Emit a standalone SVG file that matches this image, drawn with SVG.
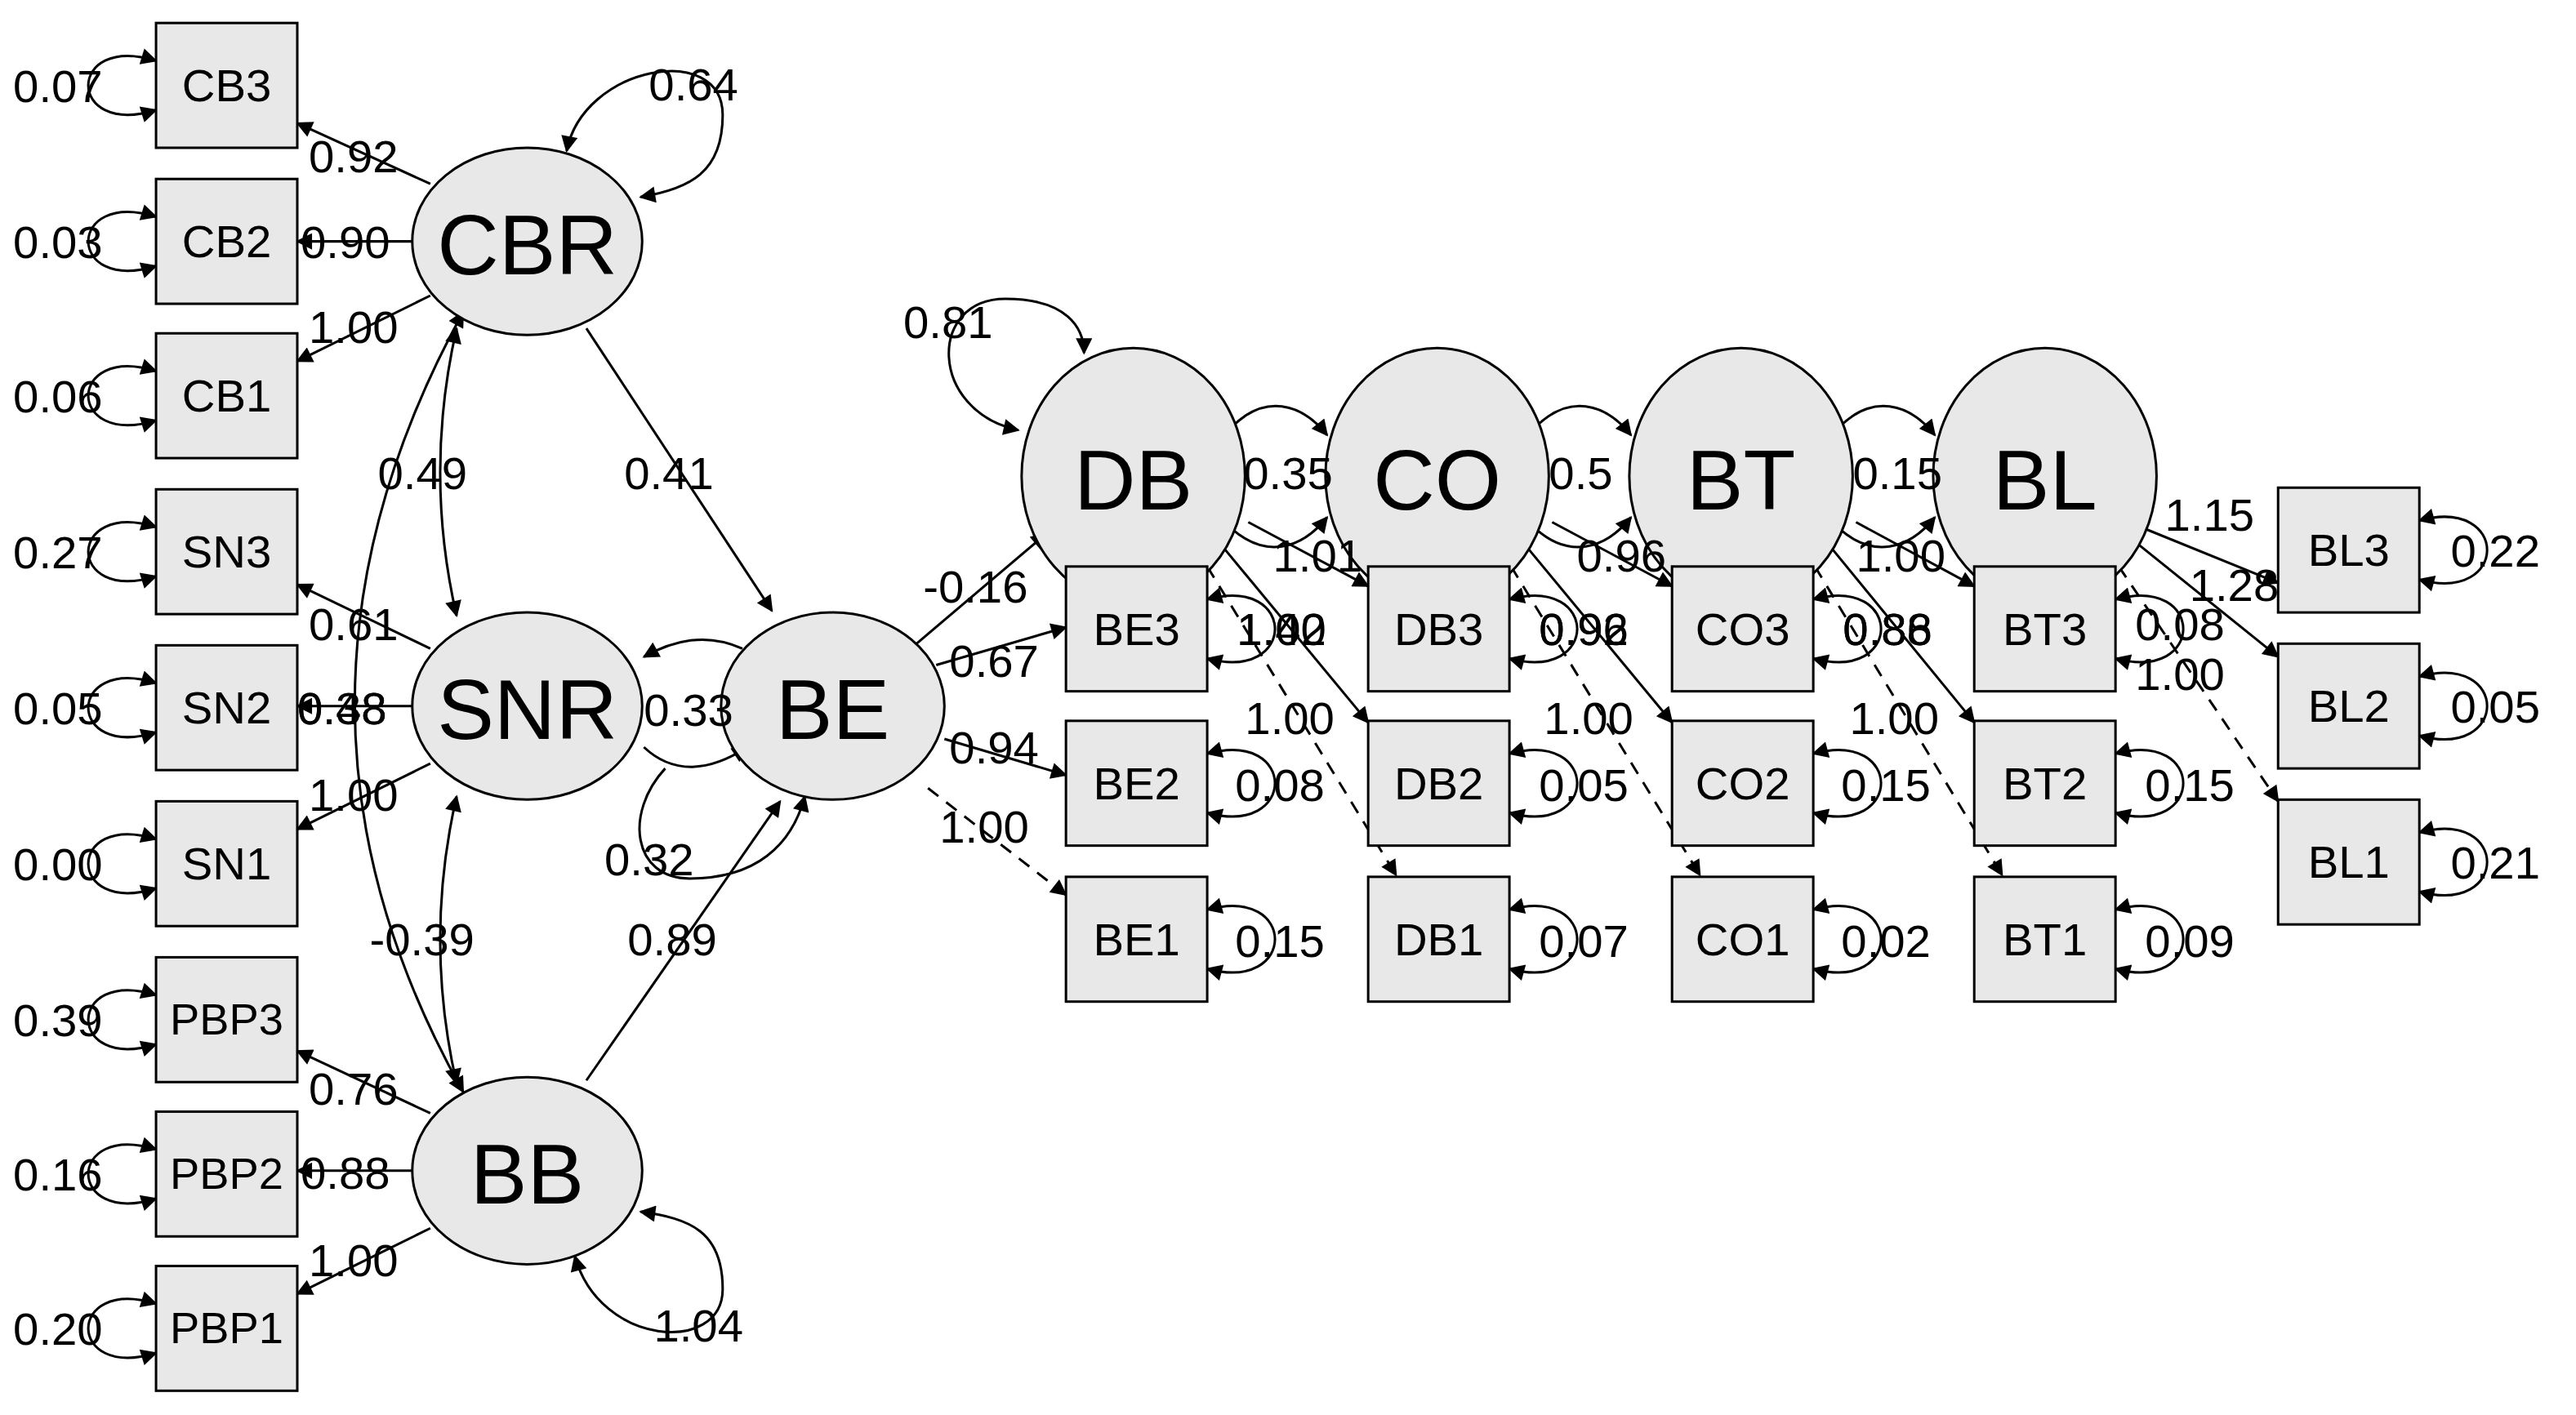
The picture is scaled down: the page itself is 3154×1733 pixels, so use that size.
<svg xmlns="http://www.w3.org/2000/svg" width="3154" height="1733" viewBox="0 0 3154 1733">
<defs>
<marker id="a" viewBox="0 0 10 10" refX="9" refY="5" markerWidth="12" markerHeight="10" markerUnits="userSpaceOnUse" orient="auto-start-reverse"><path d="M0,0 L10,5 L0,10 z" fill="#000"/></marker>
<style>
.b{fill:#e8e8e8;stroke:#000;stroke-width:1.5}
.e{fill:#e8e8e8;stroke:#000;stroke-width:1.5}
.t{font-family:"Liberation Sans",Arial,sans-serif;font-size:28px;fill:#000;text-anchor:middle;dominant-baseline:central}
.p{font-size:27px}
.L{font-family:"Liberation Sans",Arial,sans-serif;font-size:52px;fill:#000;text-anchor:middle;dominant-baseline:central}
.n{font-family:"Liberation Sans",Arial,sans-serif;font-size:28px;fill:#000}
.c{fill:none;stroke:#000;stroke-width:1.5;marker-end:url(#a)}
.d{fill:none;stroke:#000;stroke-width:1.5;marker-start:url(#a);marker-end:url(#a)}
.ds{stroke-dasharray:8,6}
</style>
</defs>
<rect width="3154" height="1733" fill="#fff"/>
<g transform="scale(2.011)">
<g id="connectors">
<path class="d" d="M95,37 C40,20 40,84 95,67"/><path class="d" d="M95,132 C40,115 40,179 95,162"/>
<path class="d" d="M95,226 C40,209 40,273 95,256"/><path class="d" d="M95,321 C40,304 40,368 95,351"/>
<path class="d" d="M95,416 C40,399 40,463 95,446"/><path class="d" d="M95,511 C40,494 40,558 95,541"/>
<path class="d" d="M95,606 C40,589 40,653 95,636"/><path class="d" d="M95,700 C40,683 40,747 95,730"/>
<path class="d" d="M95,794 C40,777 40,841 95,824"/>
<path class="c" d="M262,112 L181,75"/><path class="c" d="M251,147 L181,147"/><path class="c" d="M262,180 L181,220"/>
<path class="c" d="M262,395 L181,356"/><path class="c" d="M251,430 L181,430"/><path class="c" d="M262,465 L181,505"/>
<path class="c" d="M262,678 L181,640"/><path class="c" d="M251,713 L181,713"/><path class="c" d="M262,748 L181,788"/>
<path class="d" d="M278,200 Q258,288 278,375"/>
<path class="d" d="M278,485 Q258,572 278,660"/>
<path class="d" d="M282,190 Q150,430 282,665"/>
<path class="d" d="M345,92 C355,40 440,25 440,70 C440,105 420,115 390,120"/>
<path class="d" d="M350,765 C365,820 440,825 440,785 C440,750 420,742 390,738"/>
<path class="d" d="M620,262 C565,250 565,182 612,182 C650,182 660,200 660,215"/>
<path class="c" d="M405,468 C380,495 385,535 420,535 C460,535 482,515 490,485"/>
<path class="c" d="M452,395 C430,385 410,390 392,400"/>
<path class="c" d="M392,455 C410,472 432,470 455,455"/>
<path class="c" d="M357,200 L470,372"/>
<path class="c" d="M357,658 L475,488"/>
<path class="c" d="M558,392 L637,325"/>
<path class="c" d="M750,260 C770,240 792,245 808,265"/><path class="c" d="M750,322 C770,340 792,335 808,315"/>
<path class="c" d="M935,260 C955,240 977,245 993,265"/><path class="c" d="M935,322 C955,340 977,335 993,315"/>
<path class="c" d="M1120,260 C1140,240 1162,245 1178,265"/><path class="c" d="M1120,322 C1140,340 1162,335 1178,315"/>
<path class="c" d="M570,405 L649,382"/><path class="c" d="M575,450 L649,472"/><path class="c ds" d="M565,480 L649,545"/>
<path class="c" d="M760,318 L833,357"/><path class="c" d="M742,330 L833,440"/><path class="c ds" d="M735,345 L850,533"/>
<path class="c" d="M945,318 L1018,357"/><path class="c" d="M927,330 L1018,440"/><path class="c ds" d="M920,345 L1035,533"/>
<path class="c" d="M1130,318 L1202,357"/><path class="c" d="M1112,330 L1202,440"/><path class="c ds" d="M1105,345 L1219,533"/>
<path class="c" d="M1296,318 L1387,355"/><path class="c" d="M1300,330 L1387,400"/><path class="c ds" d="M1290,345 L1387,488"/>
<path class="d" d="M735,365 C790,350 790,416 735,401"/><path class="d" d="M735,459 C790,444 790,510 735,495"/><path class="d" d="M735,554 C790,539 790,605 735,590"/>
<path class="d" d="M919,365 C974,350 974,416 919,401"/><path class="d" d="M919,459 C974,444 974,510 919,495"/><path class="d" d="M919,554 C974,539 974,605 919,590"/>
<path class="d" d="M1104,365 C1159,350 1159,416 1104,401"/><path class="d" d="M1104,459 C1159,444 1159,510 1104,495"/><path class="d" d="M1104,554 C1159,539 1159,605 1104,590"/>
<path class="d" d="M1288,365 C1343,350 1343,416 1288,401"/><path class="d" d="M1288,459 C1343,444 1343,510 1288,495"/><path class="d" d="M1288,554 C1343,539 1343,605 1288,590"/>
<path class="d" d="M1473,317 C1528,302 1528,368 1473,353"/><path class="d" d="M1473,412 C1528,397 1528,463 1473,448"/><path class="d" d="M1473,507 C1528,492 1528,558 1473,543"/>
</g>
<g id="CB3"><rect class="b" x="95" y="14" width="86" height="76"/><text class="t" x="138" y="52">CB3</text></g>
<g id="CB2"><rect class="b" x="95" y="109" width="86" height="76"/><text class="t" x="138" y="147">CB2</text></g>
<g id="CB1"><rect class="b" x="95" y="203" width="86" height="76"/><text class="t" x="138" y="241">CB1</text></g>
<g id="SN3"><rect class="b" x="95" y="298" width="86" height="76"/><text class="t" x="138" y="336">SN3</text></g>
<g id="SN2"><rect class="b" x="95" y="393" width="86" height="76"/><text class="t" x="138" y="431">SN2</text></g>
<g id="SN1"><rect class="b" x="95" y="488" width="86" height="76"/><text class="t" x="138" y="526">SN1</text></g>
<g id="PBP3"><rect class="b" x="95" y="583" width="86" height="76"/><text class="t p" x="138" y="621">PBP3</text></g>
<g id="PBP2"><rect class="b" x="95" y="677" width="86" height="76"/><text class="t p" x="138" y="715">PBP2</text></g>
<g id="PBP1"><rect class="b" x="95" y="771" width="86" height="76"/><text class="t p" x="138" y="809">PBP1</text></g>
<g id="CBR"><ellipse class="e" cx="321" cy="147" rx="70" ry="57"/><text class="L" x="321" y="149">CBR</text></g>
<g id="SNR"><ellipse class="e" cx="321" cy="430" rx="70" ry="57"/><text class="L" x="321" y="432">SNR</text></g>
<g id="BB"><ellipse class="e" cx="321" cy="713" rx="70" ry="57"/><text class="L" x="321" y="715">BB</text></g>
<g id="BE"><ellipse class="e" cx="507" cy="430" rx="68" ry="57"/><text class="L" x="507" y="432">BE</text></g>
<g id="DB"><ellipse class="e" cx="690" cy="290" rx="68" ry="78"/><text class="L" x="690" y="292">DB</text></g>
<g id="CO"><ellipse class="e" cx="875" cy="290" rx="68" ry="78"/><text class="L" x="875" y="292">CO</text></g>
<g id="BT"><ellipse class="e" cx="1060" cy="290" rx="68" ry="78"/><text class="L" x="1060" y="292">BT</text></g>
<g id="BL"><ellipse class="e" cx="1245" cy="290" rx="68" ry="78"/><text class="L" x="1245" y="292">BL</text></g>
<g id="BE3"><rect class="b" x="649" y="345" width="86" height="76"/><text class="t" x="692" y="383">BE3</text></g>
<g id="BE2"><rect class="b" x="649" y="439" width="86" height="76"/><text class="t" x="692" y="477">BE2</text></g>
<g id="BE1"><rect class="b" x="649" y="534" width="86" height="76"/><text class="t" x="692" y="572">BE1</text></g>
<g id="DB3"><rect class="b" x="833" y="345" width="86" height="76"/><text class="t" x="876" y="383">DB3</text></g>
<g id="DB2"><rect class="b" x="833" y="439" width="86" height="76"/><text class="t" x="876" y="477">DB2</text></g>
<g id="DB1"><rect class="b" x="833" y="534" width="86" height="76"/><text class="t" x="876" y="572">DB1</text></g>
<g id="CO3"><rect class="b" x="1018" y="345" width="86" height="76"/><text class="t" x="1061" y="383">CO3</text></g>
<g id="CO2"><rect class="b" x="1018" y="439" width="86" height="76"/><text class="t" x="1061" y="477">CO2</text></g>
<g id="CO1"><rect class="b" x="1018" y="534" width="86" height="76"/><text class="t" x="1061" y="572">CO1</text></g>
<g id="BT3"><rect class="b" x="1202" y="345" width="86" height="76"/><text class="t" x="1245" y="383">BT3</text></g>
<g id="BT2"><rect class="b" x="1202" y="439" width="86" height="76"/><text class="t" x="1245" y="477">BT2</text></g>
<g id="BT1"><rect class="b" x="1202" y="534" width="86" height="76"/><text class="t" x="1245" y="572">BT1</text></g>
<g id="BL3"><rect class="b" x="1387" y="297" width="86" height="76"/><text class="t" x="1430" y="335">BL3</text></g>
<g id="BL2"><rect class="b" x="1387" y="392" width="86" height="76"/><text class="t" x="1430" y="430">BL2</text></g>
<g id="BL1"><rect class="b" x="1387" y="487" width="86" height="76"/><text class="t" x="1430" y="525">BL1</text></g>
<g id="labels">
<text class="n" x="8" y="62">0.07</text><text class="n" x="8" y="157">0.03</text><text class="n" x="8" y="251">0.06</text>
<text class="n" x="8" y="346">0.27</text><text class="n" x="8" y="441">0.05</text><text class="n" x="8" y="536">0.00</text>
<text class="n" x="8" y="631">0.39</text><text class="n" x="8" y="725">0.16</text><text class="n" x="8" y="819">0.20</text>
<text class="n" x="188" y="105">0.92</text><text class="n" x="183" y="157">0.90</text><text class="n" x="188" y="209">1.00</text>
<text class="n" x="188" y="390">0.61</text><text class="n" x="181" y="441">0.48</text><text class="n" x="181" y="441">0.38</text><text class="n" x="188" y="494">1.00</text>
<text class="n" x="188" y="673">0.76</text><text class="n" x="183" y="724">0.88</text><text class="n" x="188" y="777">1.00</text>
<text class="n" x="230" y="298">0.49</text><text class="n" x="225" y="582">-0.39</text>
<text class="n" x="395" y="61">0.64</text><text class="n" x="398" y="817">1.04</text>
<text class="n" x="380" y="298">0.41</text><text class="n" x="382" y="582">0.89</text>
<text class="n" x="392" y="442">0.33</text><text class="n" x="368" y="533">0.32</text>
<text class="n" x="550" y="206">0.81</text><text class="n" x="562" y="367">-0.16</text>
<text class="n" x="578" y="412">0.67</text><text class="n" x="578" y="465">0.94</text><text class="n" x="572" y="513">1.00</text>
<text class="n" x="757" y="298">0.35</text><text class="n" x="943" y="298">0.5</text><text class="n" x="1128" y="298">0.15</text>
<text class="n" x="775" y="348">1.01</text><text class="n" x="960" y="348">0.96</text><text class="n" x="1130" y="348">1.00</text><text class="n" x="1318" y="323">1.15</text>
<text class="n" x="753" y="393">1.40</text><text class="n" x="753" y="393">1.02</text>
<text class="n" x="937" y="393">0.92</text><text class="n" x="937" y="393">0.96</text>
<text class="n" x="1122" y="393">0.86</text><text class="n" x="1122" y="393">0.88</text>
<text class="n" x="1333" y="366">1.28</text><text class="n" x="1300" y="390">0.08</text><text class="n" x="1300" y="420">1.00</text>
<text class="n" x="758" y="447">1.00</text><text class="n" x="940" y="447">1.00</text><text class="n" x="1126" y="447">1.00</text>
<text class="n" x="752" y="488">0.08</text><text class="n" x="937" y="488">0.05</text><text class="n" x="1121" y="488">0.15</text><text class="n" x="1306" y="488">0.15</text>
<text class="n" x="752" y="583">0.15</text><text class="n" x="937" y="583">0.07</text><text class="n" x="1121" y="583">0.02</text><text class="n" x="1306" y="583">0.09</text>
<text class="n" x="1492" y="345">0.22</text><text class="n" x="1492" y="440">0.05</text><text class="n" x="1492" y="535">0.21</text>
</g>
</g>
</svg>
